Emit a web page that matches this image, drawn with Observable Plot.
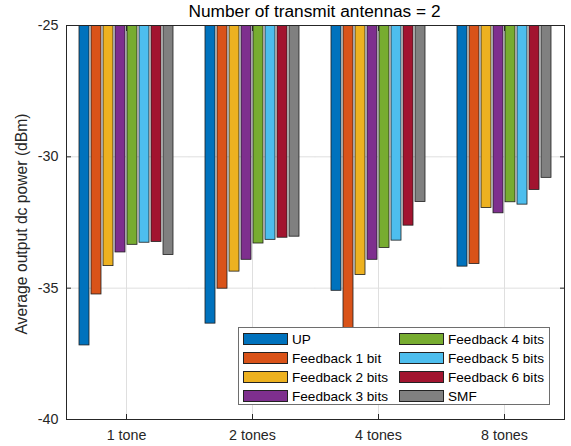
<!DOCTYPE html>
<html>
<head>
<meta charset="utf-8">
<script src="https://cdn.jsdelivr.net/npm/d3@7"></script>
<script src="https://cdn.jsdelivr.net/npm/@observablehq/plot@0.6"></script>
<style>
  body { margin: 0; background: #fff; font-family: "Liberation Sans", Arial, sans-serif; }
  #wrap { position: relative; width: 571px; height: 446px; }
  #title { position: absolute; left: 65px; width: 499px; top: 1px; text-align: center; font-size: 17.3px; color: #000; line-height: 20px; white-space: nowrap; }
  #ylabel { position: absolute; left: 22px; top: 224px; transform: translate(-50%, -50%) rotate(-90deg); font-size: 15.7px; color: #262626; white-space: nowrap; line-height: 18px; }
  #legend { position: absolute; left: 238px; top: 327px; width: 312px; height: 78px; background: #fff; border: 1px solid #6e6e6e; box-sizing: border-box; }
  .item { position: absolute; height: 19px; display: flex; align-items: center; font-size: 13.6px; color: #000; white-space: nowrap; }
  .sw { width: 45px; height: 12px; border: 1px solid #222; box-sizing: border-box; margin-right: 4px; }
</style>
</head>
<body>
<div id="wrap">
  <div id="chart"></div>
  <div id="title">Number of transmit antennas = 2</div>
  <div id="ylabel">Average output dc power (dBm)</div>
  <div id="legend"></div>
</div>
<script>
const categories = ["1 tone", "2 tones", "4 tones", "8 tones"];
const series = ["UP", "Feedback 1 bit", "Feedback 2 bits", "Feedback 3 bits",
                "Feedback 4 bits", "Feedback 5 bits", "Feedback 6 bits", "SMF"];
const colors = ["#0072BD", "#D95319", "#EDB120", "#7E2F8E", "#77AC30", "#4DBEEE", "#A2142F", "#808080"];

const UP  = [-37.18, -36.35, -35.10, -34.18];
const FB1 = [-35.24, -35.02, -37.20, -34.08];
const FB2 = [-34.16, -34.37, -34.50, -31.95];
const FB3 = [-33.64, -33.92, -33.92, -32.15];
const FB4 = [-33.35, -33.30, -33.47, -31.73];
const FB5 = [-33.27, -33.16, -33.19, -31.82];
const FB6 = [-33.24, -33.08, -32.62, -31.26];
const SMF = [-33.74, -33.04, -31.72, -30.80];

const yTicks = [-40, -35, -30, -25];

const seriesValues = [UP, FB1, FB2, FB3, FB4, FB5, FB6, SMF];
const data = [];
series.forEach((s, j) => categories.forEach((c, i) => data.push({category: c, series: s, value: seriesValues[j][i]})));

// horizontal grid, one set per facet (extended across the gaps between facets)
const grid = [];
categories.forEach(c => yTicks.forEach(t => grid.push({category: c, y: t})));
const first = categories[0], last = categories[categories.length - 1];

const font = "Liberation Sans, Arial, sans-serif";
const gridStyle = {fx: "category", y: "y", stroke: "#dfdfdf", strokeOpacity: 1};

const chart = Plot.plot({
  width: 571,
  height: 446,
  marginLeft: 65,
  marginRight: 7,
  marginTop: 25,
  marginBottom: 27,
  style: {fontFamily: font, fontSize: "14.3px", color: "#262626", background: "transparent"},
  fx: {domain: categories, paddingInner: 0.049, paddingOuter: 0, label: null},
  x: {domain: series, paddingInner: 0.186, paddingOuter: 0.836, axis: null},
  y: {domain: [-40, -25], label: null},
  color: {domain: series, range: colors},
  marks: [
    Plot.ruleY(grid.filter(d => d.category === first), {...gridStyle, insetRight: -3.2}),
    Plot.ruleY(grid.filter(d => d.category !== first && d.category !== last), {...gridStyle, insetLeft: -3.2, insetRight: -3.2}),
    Plot.ruleY(grid.filter(d => d.category === last), {...gridStyle, insetLeft: -3.2}),
    Plot.gridFx({stroke: "#dfdfdf", strokeOpacity: 1}),
    Plot.barY(data, {fx: "category", x: "series", y: "value", fill: "series", stroke: "#1e1e1e", strokeWidth: 0.8, clip: true}),
    Plot.axisY(yTicks, {anchor: "left", tickSize: -5, tickPadding: 13, label: null, fontSize: "14.3px", tickFormat: d => String(d)}),
    Plot.axisY(yTicks, {anchor: "right", tickSize: -5, tickFormat: () => "", label: null}),
    Plot.axisFx({anchor: "bottom", tickSize: -5, tickPadding: 15, label: null, fontSize: "14.3px"}),
    Plot.axisFx({anchor: "top", tickSize: -5, tickFormat: () => "", label: null}),
    Plot.frame({facet: "super", stroke: "#262626"})
  ]
});
document.getElementById("chart").appendChild(chart);

// Legend, built from the series and colour arrays
const legend = document.getElementById("legend");
series.forEach((s, j) => {
  const col = Math.floor(j / 4), row = j % 4;
  const it = document.createElement("div");
  it.className = "item";
  it.style.left = (col === 0 ? 4 : 160) + "px";
  it.style.top = (1.5 + row * 19) + "px";
  const sw = document.createElement("div");
  sw.className = "sw";
  sw.style.background = colors[j];
  it.appendChild(sw);
  it.appendChild(document.createTextNode(s));
  legend.appendChild(it);
});
</script>
</body>
</html>
